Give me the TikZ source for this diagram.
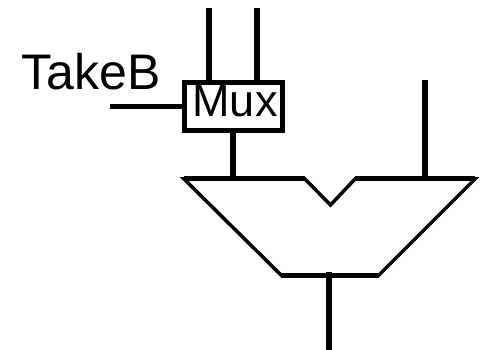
\documentclass[tikz,border=0pt]{standalone}
\usepackage{fontspec}
\setmainfont{Liberation Sans}
\begin{document}
\begin{tikzpicture}
    [x=1pt,y=-1pt,line width=5.5pt]
    \useasboundingbox (0,0) rectangle (485,350);
    %mux box
    \node[draw,line width=5pt,minimum width=98pt,minimum height=48pt,inner sep=0pt] (mux) at (233.5,106.5) {};
    \node[font=\fontsize{45}{48}\selectfont,inner sep=0pt] (muxlabel) at (235,101) {Mux};
    \node[font=\fontsize{50}{54}\selectfont,inner sep=0pt] (takeb) at (91,71.5) {TakeB};
    %inputs of the mux
    \coordinate (ina) at (209,8);
    \coordinate (inb) at (257,8);
    \coordinate (insel) at (110,106.5);
    \draw (ina)--(ina|-mux.north);
    \draw (inb)--(inb|-mux.north);
    \draw (insel)--(mux.west);
    %alu
    \draw[line width=3.5pt,line join=miter] (184,179)--(305,179)--(330.5,205)--(355,179)--(475,179)--(379,275)--(281,275)--cycle;
    \draw[line width=5pt] (184,179)--(305,179);
    \draw[line width=5pt] (355,179)--(475,179);
    \draw[line width=5pt] (281,275)--(379,275);
    \coordinate (alua) at (233,181);
    \coordinate (alub) at (425,181);
    \coordinate (aluout) at (329,272);
    \coordinate (inc) at (425,80);
    \coordinate (out) at (329,350);
    \draw (mux.south-|alua)--(alua);
    \draw (inc)--(alub);
    \draw (aluout)--(out);
\end{tikzpicture}
\end{document}
